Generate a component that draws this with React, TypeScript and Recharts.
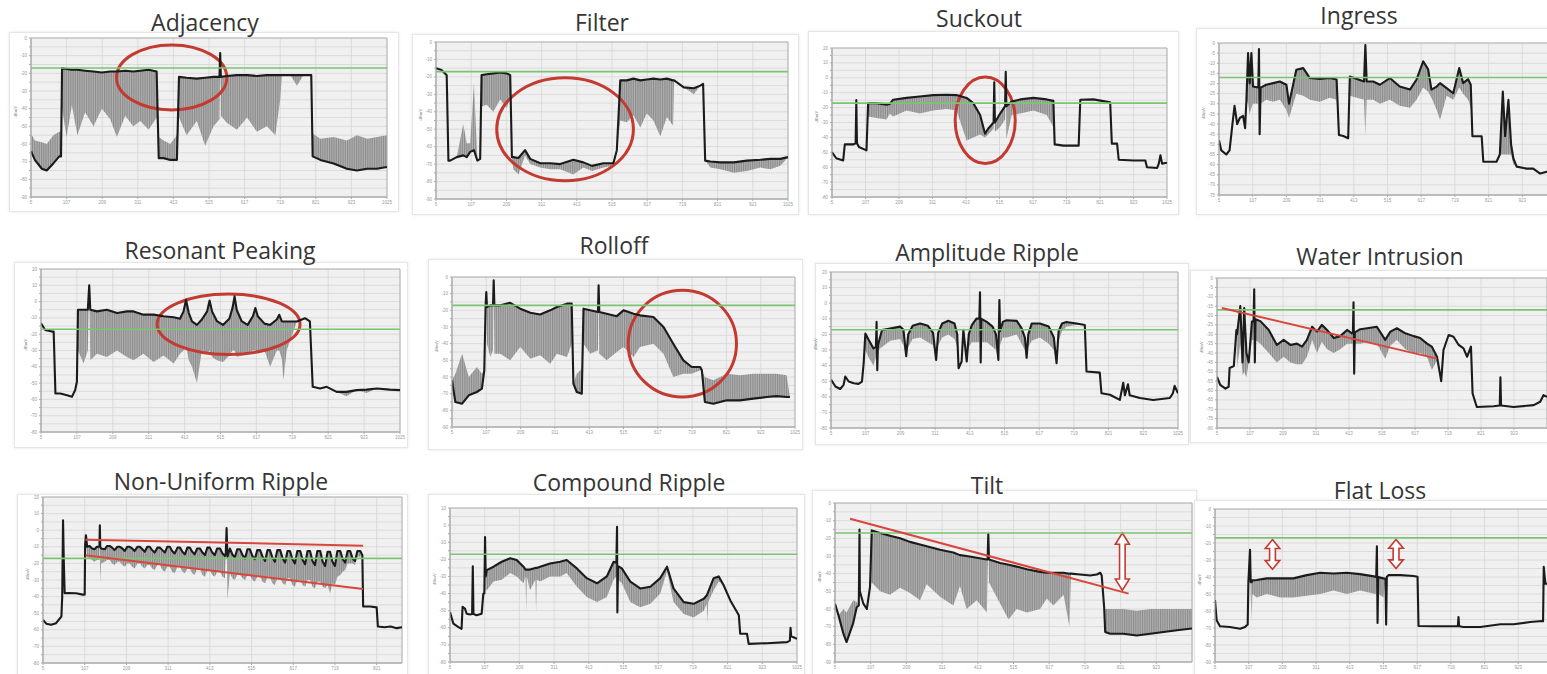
import React from "react";
import {
  ComposedChart,
  Area,
  Line,
  XAxis,
  YAxis,
  CartesianGrid,
  ReferenceLine,
  ReferenceArea,
} from "recharts";

// each row: [frequency, trace level, far end of the grey sweep spikes]
type Row = [number, number, number];

const freqTicks = [5, 107, 209, 311, 413, 515, 617, 719, 821, 923, 1025];
const freqTicksCut = [5, 107, 209, 311, 413, 515, 617, 719, 821, 923];
const freqTicksShort = [5, 107, 209, 311, 413, 515, 617, 719, 821];

const level0to90 = [0, -5, -10, -15, -20, -25, -30, -35, -40, -45, -50, -55, -60, -65, -70, -75, -80, -85, -90];
const level20to80 = [20, 15, 10, 5, 0, -5, -10, -15, -20, -25, -30, -35, -40, -45, -50, -55, -60, -65, -70, -75, -80];
const level10to80 = [10, 5, 0, -5, -10, -15, -20, -25, -30, -35, -40, -45, -50, -55, -60, -65, -70, -75, -80];
const level0to75 = [0, -5, -10, -15, -20, -25, -30, -35, -40, -45, -50, -55, -60, -65, -70, -75];
const level0to80 = [0, -5, -10, -15, -20, -25, -30, -35, -40, -45, -50, -55, -60, -65, -70, -75, -80];

const limitLevel = -17;

const adjacency: Row[] = [
  [5, -64, -54], [16, -69, -58], [36, -74, -59], [50, -75, -60], [69, -71, -55], [86, -67, -53], [91, -67, -53],
  [94, -17, -40], [107, -17.5, -56], [122, -18, -38], [138, -18, -55], [160, -18.5, -42], [184, -19, -50],
  [208, -19.5, -40], [232, -19, -46], [251, -19, -56], [275, -18.5, -44], [298, -19, -50], [318, -18.5, -47],
  [342, -18, -52], [365, -19, -45], [371, -68, -56], [385, -68, -58], [404, -69, -60], [423, -69, -55],
  [429, -22, -45], [451, -22.5, -55], [480, -23, -47], [504, -22.5, -61], [528, -22, -50], [545, -22, -46],
  [547, -8.5, -8.5], [549, -22, -44], [566, -21.5, -48], [595, -21, -52], [624, -21, -45], [652, -21.5, -53],
  [681, -21, -50], [705, -21, -55], [719, -21, -35], [724, -21, -21], [748, -21, -21], [767, -21, -27],
  [786, -21, -21], [808, -21, -21], [812, -67, -54], [834, -69, -57], [872, -71, -56], [910, -74, -58],
  [939, -75, -55], [968, -74, -57], [996, -74, -56], [1025, -73, -55],
];

const filter: Row[] = [
  [5, -15, -15], [21, -16, -16], [36, -19, -19], [41, -68, -68], [46, -68, -68], [65, -66, -66], [84, -65, -47],
  [94, -66, -58], [104, -63, -58], [115, -62, -24], [125, -68, -68], [133, -67, -67], [137, -19, -37],
  [152, -18.5, -36], [171, -18, -40], [191, -17.5, -33], [210, -18, -38], [220, -19, -30], [225, -66, -66],
  [229, -66, -73], [244, -66.5, -76], [263, -62, -65], [278, -67, -70], [307, -69.5, -72], [336, -69.5, -73],
  [365, -70, -73], [403, -67.5, -76], [432, -69, -72], [457, -71, -74], [490, -69.5, -72], [519, -69.5, -71],
  [529, -62, -62], [539, -22, -45], [558, -22, -46], [577, -21, -42], [597, -22, -49], [616, -21.5, -41],
  [635, -21, -45], [655, -21.5, -54], [674, -21, -43], [692, -22, -48], [695, -22, -22], [723, -26, -26],
  [752, -26.5, -30], [771, -25, -25], [779, -24, -24], [785, -68, -68], [800, -68.5, -72], [829, -69, -73],
  [868, -69, -75], [906, -68, -74], [945, -67.5, -72], [974, -67, -73], [1003, -67, -71], [1025, -66, -66],
];

const suckout: Row[] = [
  [5, -50, -50], [18, -54, -54], [39, -55.5, -55.5], [44, -44.7, -44.7], [69, -44.7, -44.7], [77, -44, -44],
  [79, -15, -15], [81, -44, -44], [87, -46.4, -46.4], [110, -48.7, -48.7], [115, -17, -26], [140, -17, -27],
  [171, -18, -28], [181, -17.5, -24], [191, -14.7, -26], [232, -13.5, -22], [272, -12.5, -24], [313, -11.6, -22],
  [354, -11.4, -21], [384, -11.6, -22], [415, -13.5, -42], [435, -17, -40], [456, -25, -38], [471, -37.5, -40],
  [481, -34, -38], [497, -30, -34], [499, -3, -3], [501, -30, -36], [517, -24, -33], [532, -19, -28], [534, 4, 4],
  [536, -19, -41], [552, -16, -25], [578, -14.5, -24], [618, -13.5, -22], [659, -14.5, -25], [679, -15.5, -33],
  [683, -44.7, -44.7], [710, -45.5, -45.5], [756, -45.5, -45.5], [761, -14.7, -14.7], [801, -14.5, -14.5],
  [852, -16.5, -16.5], [857, -44.2, -44.2], [873, -44.2, -44.2], [878, -55, -55], [923, -55.5, -55.5],
  [959, -55.5, -55.5], [964, -60, -60], [995, -60.5, -60.5], [1000, -57.6, -57.6], [1005, -52, -52],
  [1010, -57.6, -57.6], [1025, -57, -57],
];

const ingress: Row[] = [
  [5, -48, -48], [12, -53, -53], [27, -55, -55], [37, -53, -53], [45, -41, -41], [52, -31, -31], [60, -40, -40],
  [68, -37, -37], [78, -36, -36], [84, -42, -42], [88, -28, -28], [93, -5, -30], [98, -20, -35], [103, -5, -32],
  [108, -21.5, -30], [124, -22, -30], [126, -3, -3], [128, -45, -45], [131, -22, -30], [148, -20.6, -28],
  [169, -19.8, -29], [189, -19, -28], [209, -20.6, -33], [217, -30, -37], [239, -13.2, -25], [260, -12.4, -26],
  [280, -17.3, -28], [310, -17.8, -29], [340, -17.3, -27], [361, -18, -28], [368, -45.4, -45.4], [381, -45.9, -45.9],
  [396, -47, -47], [401, -16.5, -26], [444, -19, -28], [448, -1, -46], [452, -19, -28], [472, -19, -28],
  [492, -20.6, -30], [522, -17.3, -28], [552, -21.5, -31], [583, -23, -32], [603, -18, -28], [623, -9, -22],
  [638, -13, -24], [648, -23, -27], [664, -21.5, -33], [674, -19.8, -38], [694, -22.3, -26], [714, -24.8, -28],
  [732, -12.4, -22], [744, -19.8, -25], [759, -17.8, -28], [767, -20.6, -32], [772, -46, -46], [800, -46, -46],
  [805, -58.6, -58.6], [845, -58.6, -58.6], [855, -55, -55], [864, -24, -55], [871, -46, -55], [881, -28, -55],
  [889, -50, -55], [896, -57, -60], [906, -61, -61], [936, -62, -62], [956, -62, -62], [977, -64.4, -64.4],
  [997, -63.5, -63.5], [1025, -63, -63],
];

const resonant: Row[] = [
  [5, -13.3, -13.3], [17, -17.4, -17.4], [36, -18.4, -18.4], [41, -18.4, -18.4], [46, -56.4, -56.4], [60, -56.4, -56.4],
  [79, -57.4, -57.4], [93, -58.4, -58.4], [102, -54.3, -54.3], [107, -49.2, -49.2], [110, -5, -30], [126, -5, -38],
  [138, -5, -30], [142, 10, 10], [145, -5, -36], [164, -6, -32], [192, -5, -34], [221, -7, -30], [249, -6, -34],
  [268, -6, -36], [296, -8, -32], [325, -8, -37], [353, -9, -33], [382, -9.6, -38], [400, -10.5, -32], [410, -6, -30],
  [417, 1, -28], [425, -7, -36], [434, -12.2, -40], [448, -14.3, -50], [462, -11, -30], [477, -6, -32], [484, 0.7, -30],
  [491, -6, -34], [505, -12, -36], [522, -14.3, -37], [540, -10.5, -33], [549, -4, -30], [555, 3.2, -30], [561, -5, -34],
  [575, -12, -33], [592, -14.3, -32], [607, -9, -30], [614, -4, -30], [621, -9, -32], [640, -13.5, -30], [656, -14.3, -40],
  [675, -11, -30], [682, -8.1, -30], [689, -12, -35], [694, -12.2, -48], [703, -12.2, -30], [732, -12.2, -12.2],
  [755, -10.2, -10.2], [769, -12.2, -12.2], [777, -52.3, -52.3], [798, -53.3, -53.3], [817, -52.3, -52.3],
  [845, -55.4, -55.4], [873, -55.4, -58], [902, -54.3, -54.3], [930, -54, -56], [959, -53.3, -53.3], [996, -54, -54],
  [1025, -54.3, -54.3],
];

const rolloff: Row[] = [
  [5, -62, -62], [15, -75, -58], [35, -76, -46], [55, -71, -60], [79, -69, -54], [94, -67, -58], [101, -56, -56],
  [105, -17, -30], [107, -9, -9], [109, -18, -40], [119, -17, -48], [127, -17, -44], [129, -2, -2], [131, -17, -46],
  [149, -17, -46], [178, -15.5, -50], [208, -19, -42], [238, -21.5, -49], [267, -22.5, -47], [297, -20, -52],
  [317, -18, -46], [347, -16, -48], [361, -16, -40], [366, -64, -64], [376, -69, -58], [391, -70, -55], [396, -19, -40],
  [416, -20, -46], [439, -21, -44], [441, -5, -5], [443, -21, -46], [465, -22, -50], [495, -23.5, -45], [515, -20, -42],
  [545, -22, -48], [564, -23, -42], [604, -24, -40], [634, -30, -46], [663, -40, -60], [693, -50, -58], [718, -54, -58],
  [743, -54, -56], [748, -56, -56], [757, -75, -60], [782, -76, -62], [822, -74, -58], [861, -74, -59], [901, -73, -58],
  [941, -72, -58], [970, -71.5, -58], [1000, -72, -59], [1010, -72, -72],
];

const amplitude: Row[] = [
  [5, -49, -49], [18, -53.4, -53.4], [32, -55, -55], [42, -52.3, -52.3], [47, -47, -47], [57, -50.2, -50.2],
  [72, -51.3, -51.3], [86, -51.7, -51.7], [96, -50.2, -50.2], [101, -38.5, -38.5], [106, -19.4, -30], [116, -23.6, -35],
  [130, -29, -40], [137, -28, -35], [139, -12, -12], [141, -43, -43], [143, -27, -30], [155, -17.2, -28], [179, -16.2, -24],
  [208, -15, -23], [218, -17, -27], [226, -34, -34], [232, -20, -28], [245, -14.5, -23], [267, -13, -22], [290, -14.5, -25],
  [305, -19, -27], [314, -36.4, -36.4], [320, -19, -27], [332, -13, -22], [350, -11.3, -20], [368, -13, -23], [376, -20, -28],
  [380, -41.7, -41.7], [389, -37.4, -37.4], [394, -17, -17], [404, -37.4, -37.4], [410, -20, -28], [419, -14, -25],
  [433, -9.8, -25], [441, -10, -25], [443, 7, 7], [445, -38, -38], [447, -10, -25], [463, -12, -25], [480, -15, -28],
  [490, -20, -30], [497, -36.4, -36.4], [500, 2, 2], [502, -18, -27], [510, -12, -22], [521, -10.9, -22], [551, -11.3, -20],
  [565, -16, -26], [575, -22, -30], [580, -35, -35], [585, -20, -28], [595, -13, -24], [619, -13, -22], [645, -15, -26],
  [660, -22, -30], [668, -38.5, -38.5], [674, -18, -24], [684, -13, -18], [697, -12, -15], [727, -13, -14], [751, -14, -14],
  [756, -43.8, -43.8], [795, -44.5, -44.5], [800, -57.7, -57.7], [825, -58.7, -58.7], [854, -62, -62], [864, -51, -51],
  [869, -59, -59], [878, -52, -52], [883, -59, -59], [913, -60.8, -60.8], [952, -62, -62], [1001, -60.8, -60.8],
  [1010, -57.7, -57.7], [1015, -53, -53], [1025, -57.7, -57.7],
];

const water: Row[] = [
  [5, -52.7, -52.7], [15, -57, -57], [31, -59, -59], [41, -58, -58], [44, -48, -48], [57, -47, -47], [65, -27.7, -27.7],
  [67, -30, -48], [77, -15, -35], [84, -45, -52], [89, -16, -50], [96, -40, -53], [103, -45, -45], [113, -23.2, -33],
  [118, -23, -33], [120, -6, -6], [122, -45, -45], [124, -22, -33], [139, -23, -35], [165, -27.7, -40], [190, -35.7, -45],
  [211, -33, -42], [232, -35.7, -45], [252, -35, -46], [268, -36.6, -46], [283, -33, -42], [299, -26, -33], [314, -28.6, -40],
  [329, -25, -34], [345, -27.7, -38], [366, -32, -40], [386, -31, -38], [407, -27.7, -35], [422, -29.5, -35], [425, -29, -35],
  [427, -13, -13], [429, -51, -51], [431, -29, -35], [448, -27.3, -35], [469, -26.8, -34], [499, -26, -35], [525, -33, -43],
  [541, -28.6, -36], [561, -26.8, -33], [587, -29.5, -38], [613, -31, -40], [633, -32, -40], [654, -35, -42], [669, -36.6, -49],
  [685, -42, -44], [698, -55, -55], [705, -38.4, -38.4], [721, -30.4, -30.4], [736, -31.3, -31.3], [752, -35.7, -35.7],
  [767, -37.5, -37.5], [778, -42, -42], [790, -36.6, -36.6], [795, -61.6, -61.6], [808, -68.8, -68.8], [860, -68.4, -68.4],
  [879, -68, -68], [881, -53, -53], [883, -68, -68], [922, -68.8, -68.8], [984, -67.8, -67.8], [1004, -66, -66],
  [1014, -62.5, -62.5], [1025, -63.4, -63.4],
];

const nonUniform: Row[] = [
  [5, -54, -54], [13, -56.3, -56.3], [25, -57, -57], [37, -56, -56], [50, -52, -52], [52, -40, -40], [54, 6, 6],
  [56, -20, -20], [58, -38, -38], [66, -37.8, -37.8], [86, -38, -38], [102, -38.8, -38.8], [107, -38.8, -38.8],
  [108, -9, -9], [110, -3, -3], [113, -10, -16], [119, -9.5, -17], [125, -11, -18], [131, -11.5, -19], [137, -10, -18],
  [143, -10, -18], [144, 3, 3], [145, -10, -32], [147, -11, -20], [156, -11.5, -19], [162, -9.5, -18], [168, -9.5, -18],
  [174, -10.5, -20], [180, -12, -21], [187, -10, -19], [193, -10, -19], [199, -11, -21], [205, -12.5, -22], [211, -10, -20],
  [217, -10, -20], [223, -11, -22], [229, -12.5, -23], [236, -10, -20], [242, -10, -20], [248, -11.5, -22], [254, -13, -23],
  [260, -10, -21], [266, -10, -21], [272, -12, -23], [278, -13.5, -24], [285, -10.5, -21], [291, -10.5, -21],
  [297, -12, -24], [303, -13.5, -25], [309, -10, -22], [315, -10, -22], [321, -12.5, -25], [327, -14, -26],
  [334, -10.5, -22], [340, -10.5, -22], [346, -13, -25], [352, -14.5, -26], [358, -10.5, -23], [364, -10.5, -23],
  [370, -13, -26], [376, -14.5, -27], [382, -11, -23], [389, -11, -23], [395, -13.5, -27], [401, -15, -28],
  [407, -10.5, -24], [413, -10.5, -24], [419, -13.5, -27], [425, -15, -28], [431, -11, -25], [438, -11, -25],
  [444, -14, -28], [450, -15.5, -29], [452, -14, -14], [454, 1.3, 1.3], [456, -16, -42], [462, -11, -26], [468, -14.5, -29],
  [474, -16.5, -30], [480, -11.5, -27], [487, -11.5, -27], [493, -15, -29], [499, -17, -30], [505, -11.5, -27],
  [511, -11.5, -27], [517, -15.5, -30], [523, -17.5, -31], [529, -12, -28], [536, -12, -28], [542, -16, -31],
  [548, -18.5, -32], [554, -12, -28], [560, -12, -28], [566, -16.5, -32], [572, -19, -33], [578, -12, -29],
  [585, -12, -29], [591, -17, -32], [597, -19.5, -33], [603, -12.5, -29], [609, -12.5, -29], [615, -17.5, -33],
  [621, -20, -34], [627, -12.5, -30], [634, -12.5, -30], [640, -18, -33], [646, -20.5, -34], [652, -12.5, -30],
  [658, -12.5, -30], [664, -18.5, -34], [670, -21, -35], [676, -12.5, -31], [683, -12.5, -31], [689, -19, -34],
  [695, -21.5, -35], [701, -13, -33], [707, -13, -38], [713, -19, -32], [719, -21.5, -33], [725, -12.5, -28],
  [732, -12.5, -27], [738, -17.5, -25], [744, -19.5, -24], [750, -12.5, -20], [756, -12.5, -20], [762, -17, -20],
  [768, -18.5, -21], [774, -12.5, -16], [781, -12.5, -16], [786, -15, -15], [788, -46, -46], [805, -46, -46],
  [821, -46.5, -46.5], [824, -58, -58], [840, -58.5, -58.5], [855, -58, -58], [870, -59, -59], [883, -58.5, -58.5],
];

const compound: Row[] = [
  [5, -50.8, -50.8], [15, -57.6, -57.6], [30, -59.6, -59.6], [39, -60.6, -60.6], [42, -47.8, -47.8], [49, -48.8, -48.8],
  [54, -51.8, -51.8], [64, -52.2, -52.2], [70, -52, -52], [72, -24, -24], [74, -52, -52], [83, -52.7, -52.7],
  [98, -51.8, -51.8], [103, -40, -40], [106, -40, -40], [108, -7, -7], [110, -30, -38], [113, -26.3, -38], [133, -24.3, -33],
  [157, -21.4, -32], [182, -19.4, -28], [201, -20.4, -30], [221, -24.3, -34], [227, -26, -30], [229, -26, -51], [231, -26, -30],
  [240, -26, -38], [256, -25, -32], [258, -25, -51], [260, -25, -32], [270, -24.3, -33], [299, -22.4, -30], [329, -21.4, -30],
  [348, -20.4, -28], [378, -25.3, -36], [407, -31, -42], [437, -34, -45], [466, -30, -42], [486, -21.4, -32], [494, -22, -30],
  [496, -1, -1], [497, -51, -51], [499, -24, -32], [510, -25.3, -34], [535, -33, -45], [564, -37, -48], [594, -36, -46],
  [623, -31, -40], [643, -24.3, -27], [662, -37, -45], [692, -45, -52], [721, -46, -54], [751, -43, -50], [760, -41, -46],
  [762, -40, -57.6], [764, -39, -45], [780, -31, -38], [795, -30, -33], [809, -35, -35], [829, -44, -44], [854, -52.7, -52.7],
  [858, -63.5, -63.5], [878, -63.5, -63.5], [883, -69.4, -69.4], [937, -69, -69], [996, -68.4, -68.4], [1004, -67.5, -67.5],
  [1006, -60, -60], [1008, -65, -65], [1025, -66.5, -66.5],
];

const tilt: Row[] = [
  [5, -57, -57], [15, -63.6, -63.6], [29, -74, -60], [38, -78.7, -62], [57, -68, -55], [67, -59, -56], [73, -58, -58],
  [75, -15, -15], [76, -50, -50], [86, -57, -57], [96, -60, -60], [105, -47.5, -47.5], [110, -15.5, -45], [134, -17, -50],
  [162, -18.5, -52], [191, -20, -48], [219, -22, -51], [248, -23.5, -55], [267, -24.5, -46], [305, -26.5, -53],
  [343, -28, -58], [362, -29.5, -47], [381, -30, -60], [410, -31, -55], [439, -32, -62], [441, -32, -40], [443, -17.4, -17.4],
  [445, -32, -45], [477, -34, -57], [501, -35, -66], [524, -36, -60], [553, -37.5, -62], [591, -39, -60], [610, -39.5, -54],
  [629, -39.5, -58], [658, -39.5, -52], [675, -40, -70], [679, -40, -40], [705, -40.5, -40.5], [734, -41, -41],
  [753, -40.5, -40.5], [763, -39.5, -39.5], [767, -41, -41], [774, -59, -59], [777, -73, -60], [791, -74, -60],
  [829, -74, -60], [867, -75, -61], [906, -74, -60], [944, -73, -60], [982, -72, -60], [1025, -71, -60],
];

const flatLoss: Row[] = [
  [5, -53.6, -53.6], [10, -65.5, -65.5], [20, -69, -69], [50, -69.4, -69.4], [81, -70.4, -70.4], [96, -69.4, -69.4],
  [101, -68.4, -68.4], [104, -68, -68], [106, -43, -43], [111, -24, -24], [113, -43, -50], [116, -43, -66.5], [118, -42, -50],
  [131, -41.8, -52], [162, -40.8, -50], [202, -40.8, -52], [242, -40.8, -52], [283, -38.9, -51], [323, -37.5, -50],
  [364, -37.9, -48], [404, -37.5, -50], [444, -38.3, -48], [490, -39.8, -50], [493, -40, -50], [495, -22, -22], [497, -67, -67],
  [499, -40, -50], [515, -40.8, -52], [521, -41, -41], [523, -68, -68], [525, -40, -40], [530, -38.9, -38.9],
  [566, -38.9, -38.9], [606, -39.4, -39.4], [618, -39.8, -39.8], [621, -68.8, -68.8], [667, -69, -69], [740, -69, -69],
  [742, -63.5, -63.5], [744, -69, -69], [757, -69.4, -69.4], [808, -69.4, -69.4], [869, -67.8, -67.8], [909, -67.8, -67.8],
  [959, -66.5, -66.5], [995, -65.9, -65.9], [998, -66, -66], [1000, -34, -34], [1005, -44, -44], [1011, -44, -44],
];

// annotations, in chart units
type Note = { kind: "ring" | "slope" | "arrow"; x1: number; x2: number; y1: number; y2: number };

const adjacencyNotes: Note[] = [{ kind: "ring", x1: 250, x2: 566, y1: -40.7, y2: -3.9 }];
const filterNotes: Note[] = [{ kind: "ring", x1: 181, x2: 577, y1: -79.5, y2: -20.5 }];
const suckoutNotes: Note[] = [{ kind: "ring", x1: 380, x2: 563, y1: -57.5, y2: 0.5 }];
const resonantNotes: Note[] = [{ kind: "ring", x1: 335, x2: 741, y1: -32.4, y2: 4.6 }];
const rolloffNotes: Note[] = [{ kind: "ring", x1: 529, x2: 851, y1: -72, y2: -8 }];
const waterNotes: Note[] = [{ kind: "slope", x1: 20, y1: -16, x2: 685, y2: -43 }];
const nonUniformNotes: Note[] = [
  { kind: "slope", x1: 109, y1: -5.7, x2: 788, y2: -9.3 },
  { kind: "slope", x1: 109, y1: -15.1, x2: 788, y2: -35.4 },
];
const tiltNotes: Note[] = [
  { kind: "slope", x1: 48, y1: -8.9, x2: 844, y2: -51.3 },
  { kind: "arrow", x1: 806, x2: 846, y1: -49.4, y2: -17 },
];
const flatLossNotes: Note[] = [
  { kind: "arrow", x1: 157, x2: 201, y1: -35.5, y2: -18 },
  { kind: "arrow", x1: 531, x2: 575, y1: -35, y2: -18 },
];

type Box = { l: number; t: number; r: number; b: number };
type Panel = {
  title: string;
  rows: Row[];
  levels: number[];
  every: number;
  freqs: number[];
  xMax: number;
  card: Box;
  plot: Box;
  head: [number, number];
  notes: Note[];
};

const panels: Panel[] = [
  { title: "Adjacency", rows: adjacency, levels: level0to90, every: 10, freqs: freqTicks, xMax: 1025,
    card: { l: 9, t: 32, r: 397, b: 210 }, plot: { l: 31, t: 38, r: 387, b: 197 }, head: [205, 22], notes: adjacencyNotes },
  { title: "Filter", rows: filter, levels: level0to90, every: 10, freqs: freqTicks, xMax: 1025,
    card: { l: 412, t: 34, r: 797, b: 213 }, plot: { l: 436, t: 42, r: 788, b: 199 }, head: [602, 22], notes: filterNotes },
  { title: "Suckout", rows: suckout, levels: level20to80, every: 10, freqs: freqTicks, xMax: 1025,
    card: { l: 808, t: 31, r: 1177, b: 213 }, plot: { l: 832, t: 48, r: 1167, b: 197 }, head: [979, 18], notes: suckoutNotes },
  { title: "Ingress", rows: ingress, levels: level0to75, every: 5, freqs: freqTicksCut, xMax: 1025,
    card: { l: 1196, t: 28, r: 1575, b: 213 }, plot: { l: 1219, t: 43, r: 1556, b: 195 }, head: [1359, 15], notes: [] },
  { title: "Resonant Peaking", rows: resonant, levels: level20to80, every: 10, freqs: freqTicks, xMax: 1025,
    card: { l: 14, t: 262, r: 406, b: 446 }, plot: { l: 41, t: 269, r: 400, b: 432 }, head: [220, 250], notes: resonantNotes },
  { title: "Rolloff", rows: rolloff, levels: level0to90, every: 10, freqs: freqTicks, xMax: 1025,
    card: { l: 428, t: 259, r: 801, b: 448 }, plot: { l: 452, t: 277, r: 795, b: 427 }, head: [614, 245], notes: rolloffNotes },
  { title: "Amplitude Ripple", rows: amplitude, levels: level20to80, every: 10, freqs: freqTicks, xMax: 1025,
    card: { l: 815, t: 263, r: 1187, b: 443 }, plot: { l: 831, t: 272, r: 1178, b: 428 }, head: [987, 252], notes: [] },
  { title: "Water Intrusion", rows: water, levels: level0to80, every: 5, freqs: freqTicksCut, xMax: 1025,
    card: { l: 1190, t: 270, r: 1575, b: 441 }, plot: { l: 1217, t: 278, r: 1547, b: 428 }, head: [1380, 256], notes: waterNotes },
  { title: "Non-Uniform Ripple", rows: nonUniform, levels: level20to80, every: 10, freqs: freqTicksShort, xMax: 883,
    card: { l: 17, t: 494, r: 406, b: 680 }, plot: { l: 43, t: 497, r: 402, b: 663 }, head: [221, 481], notes: nonUniformNotes },
  { title: "Compound Ripple", rows: compound, levels: level10to80, every: 10, freqs: freqTicks, xMax: 1025,
    card: { l: 428, t: 494, r: 803, b: 680 }, plot: { l: 450, t: 508, r: 797, b: 662 }, head: [629, 482], notes: [] },
  { title: "Tilt", rows: tilt, levels: level0to90, every: 10, freqs: freqTicksCut, xMax: 1025,
    card: { l: 812, t: 490, r: 1195, b: 680 }, plot: { l: 835, t: 503, r: 1192, b: 662 }, head: [987, 485], notes: tiltNotes },
  { title: "Flat Loss", rows: flatLoss, levels: level0to90, every: 10, freqs: freqTicksCut, xMax: 1025,
    card: { l: 1194, t: 500, r: 1575, b: 680 }, plot: { l: 1215, t: 509, r: 1552, b: 662 }, head: [1380, 490], notes: flatLossNotes },
];

const ink = "#1b1b1b";
const limitGreen = "#7ac472";
const markRed = "#c33a31";

function Ring(props: any) {
  const { x, y, width, height } = props;
  return (
    <ellipse
      cx={x + width / 2}
      cy={y + height / 2}
      rx={Math.abs(width) / 2}
      ry={Math.abs(height) / 2}
      fill="none"
      stroke={markRed}
      strokeWidth={3}
    />
  );
}

// hollow double-headed arrow filling its box
function DoubleArrow(props: any) {
  const { x, y, width: w, height: h } = props;
  const cx = x + w / 2;
  const head = Math.min(h * 0.3, w * 0.8);
  const sw = w * 0.2;
  const pts = [
    [cx, y], [x + w, y + head], [cx + sw, y + head], [cx + sw, y + h - head], [x + w, y + h - head], [cx, y + h],
    [x, y + h - head], [cx - sw, y + h - head], [cx - sw, y + head], [x, y + head],
  ]
    .map((p) => p.join(","))
    .join(" ");
  return <polygon points={pts} fill="#fff" stroke={markRed} strokeWidth={1.6} />;
}

function Spectrum({ p, id }: { p: Panel; id: number }) {
  const rows = p.rows.map(([f, trace, spike]) => ({
    f,
    trace,
    band: [Math.min(trace, spike), Math.max(trace, spike)],
  }));
  const pw = p.plot.r - p.plot.l;
  const ph = p.plot.b - p.plot.t;
  const yMax = p.levels[0];
  const yMin = p.levels[p.levels.length - 1];
  const hatch = `sweep-${id}`;
  const tickStyle = { fontSize: 4.5, fill: "#9a9a9a", fontFamily: "Liberation Sans" };

  return (
    <>
      <div
        style={{
          position: "absolute",
          left: p.card.l,
          top: p.card.t,
          width: p.card.r - p.card.l,
          height: p.card.b - p.card.t,
          background: "#fff",
          border: "1px solid #e6e6e6",
          boxShadow: "0 0 3px rgba(0,0,0,0.1)",
        }}
      />
      <div style={{ position: "absolute", left: p.plot.l - 26, top: p.plot.t - 6 }}>
        <ComposedChart
          width={pw + 32}
          height={ph + 18}
          data={rows}
          margin={{ top: 6, right: 6, bottom: 2, left: 8 }}
        >
          <defs>
            <pattern id={hatch} width={1.8} height={4} patternUnits="userSpaceOnUse">
              <rect width={1.8} height={4} fill="#b2b2b2" />
              <rect width={0.9} height={4} fill="#8a8a8a" />
            </pattern>
          </defs>
          <CartesianGrid stroke="#d6d6d6" fill="#f0f0f0" strokeWidth={0.8} />
          <XAxis
            type="number"
            dataKey="f"
            domain={[5, p.xMax]}
            ticks={p.freqs}
            interval={0}
            height={10}
            tick={tickStyle}
            tickSize={2}
            stroke="#aaaaaa"
            allowDataOverflow
          />
          <YAxis
            type="number"
            domain={[yMin, yMax]}
            ticks={p.levels}
            interval={0}
            width={18}
            tick={tickStyle}
            tickSize={2}
            stroke="#aaaaaa"
            tickFormatter={(v: number) => (v % p.every === 0 ? String(v) : "")}
            allowDataOverflow
            label={{ value: "dBmV", angle: -90, position: "insideLeft", offset: 2, fontSize: 4.5, fill: "#888" }}
          />
          <ReferenceArea x1={5} x2={p.xMax} y1={yMin} y2={yMax} fill="none" stroke="#b4b4b4" strokeWidth={1} />
          <Area
            type="linear"
            dataKey="band"
            stroke="none"
            fill={`url(#${hatch})`}
            fillOpacity={1}
            isAnimationActive={false}
          />
          <Line
            type="linear"
            dataKey="trace"
            stroke={ink}
            strokeWidth={2.1}
            strokeLinejoin="round"
            dot={false}
            activeDot={false}
            isAnimationActive={false}
          />
          <ReferenceLine y={limitLevel} stroke={limitGreen} strokeWidth={1.6} />
          {p.notes.map((n, k) =>
            n.kind === "slope" ? (
              <ReferenceLine
                key={k}
                segment={[{ x: n.x1, y: n.y1 }, { x: n.x2, y: n.y2 }]}
                stroke="#d8463c"
                strokeWidth={2}
                ifOverflow="visible"
              />
            ) : (
              <ReferenceArea
                key={k}
                x1={n.x1}
                x2={n.x2}
                y1={n.y1}
                y2={n.y2}
                ifOverflow="visible"
                shape={(props: any) => (n.kind === "ring" ? <Ring {...props} /> : <DoubleArrow {...props} />)}
              />
            )
          )}
        </ComposedChart>
      </div>
      <div
        style={{
          position: "absolute",
          left: p.head[0] - 160,
          top: p.head[1] - 13,
          width: 320,
          textAlign: "center",
          fontFamily: "'Open Sans', sans-serif",
          fontSize: 23,
          lineHeight: "26px",
          color: "#353535",
        }}
      >
        {p.title}
      </div>
    </>
  );
}

export default function App() {
  return (
    <div
      style={{
        position: "absolute",
        left: 0,
        top: 0,
        width: 1547,
        height: 674,
        overflow: "hidden",
        background: "#fff",
      }}
    >
      {panels.map((p, i) => (
        <Spectrum key={p.title} p={p} id={i} />
      ))}
    </div>
  );
}
